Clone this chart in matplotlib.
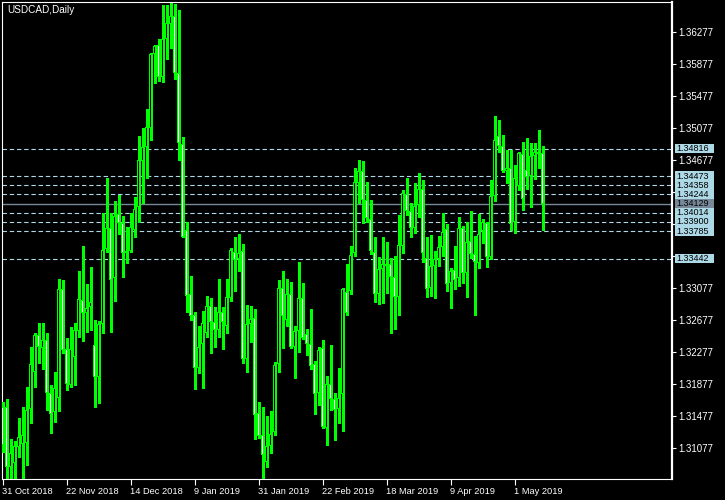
import numpy as np
import matplotlib
matplotlib.use("Agg")
import matplotlib.pyplot as plt
from matplotlib.patches import Rectangle
from matplotlib.transforms import blended_transform_factory

# daily USDCAD candles, 31 Oct 2018 .. mid May 2019
opens = [1.31587, 1.31587, 1.30837, 1.30887, 1.31087, 1.31124, 1.31137, 1.31562, 1.32024, 1.32487,
         1.32324, 1.32424, 1.31762, 1.31524, 1.31699, 1.33062, 1.32312, 1.31862, 1.32212, 1.32537,
         1.32924, 1.32762, 1.32837, 1.32362, 1.31962, 1.32624, 1.33562, 1.33824, 1.33199, 1.33999,
         1.33887, 1.33537, 1.33537, 1.33799, 1.34087, 1.34662, 1.34837, 1.35074, 1.35999, 1.36112,
         1.35712, 1.36187, 1.36374, 1.36474, 1.35762, 1.34874, 1.33799, 1.32999, 1.32737, 1.32074,
         1.32374, 1.32512, 1.32849, 1.32649, 1.32549, 1.32774, 1.32599, 1.32949, 1.33524, 1.33437,
         1.33537, 1.32187, 1.32624, 1.32699, 1.31512, 1.31237, 1.30899, 1.31099, 1.31274, 1.32124,
         1.33074, 1.32674, 1.32999, 1.32337, 1.32537, 1.32949, 1.32499, 1.32374, 1.32124, 1.31762,
         1.32324, 1.31324, 1.31874, 1.31687, 1.31562, 1.31749, 1.33024, 1.33037, 1.33512, 1.34387,
         1.34537, 1.34174, 1.33937, 1.33524, 1.32999, 1.33312, 1.33349, 1.33374, 1.33212, 1.32962,
         1.33599, 1.34249, 1.34037, 1.33824, 1.34112, 1.34312, 1.33449, 1.33074, 1.33349, 1.33437,
         1.33587, 1.33812, 1.33137, 1.33299, 1.33199, 1.33824, 1.33262, 1.33662, 1.33499, 1.33387,
         1.33787, 1.33887, 1.33462, 1.34224, 1.34974, 1.34849, 1.34537, 1.34574, 1.33899, 1.34349,
         1.34749, 1.34549, 1.34474, 1.34724, 1.34774, 1.34762]
highs = [1.31649, 1.31687, 1.31187, 1.31162, 1.31449, 1.31587, 1.31837, 1.32337, 1.32512, 1.32637,
         1.32637, 1.32512, 1.31862, 1.32024, 1.33187, 1.33174, 1.32449, 1.32587, 1.32637, 1.33287,
         1.33599, 1.33124, 1.33337, 1.32674, 1.32662, 1.34012, 1.34449, 1.34012, 1.34162, 1.34237,
         1.33974, 1.33837, 1.34012, 1.34212, 1.34974, 1.35074, 1.35312, 1.36012, 1.36112, 1.36187,
         1.36612, 1.36612, 1.36637, 1.36624, 1.36549, 1.34962, 1.33899, 1.33224, 1.32774, 1.32599,
         1.32787, 1.32974, 1.32949, 1.32837, 1.33187, 1.32837, 1.33187, 1.33574, 1.33712, 1.33749,
         1.33624, 1.32862, 1.32849, 1.32812, 1.31649, 1.31587, 1.31474, 1.31537, 1.32149, 1.33174,
         1.33287, 1.33187, 1.33149, 1.32599, 1.33399, 1.33137, 1.32562, 1.32812, 1.32162, 1.32337,
         1.32424, 1.31974, 1.32362, 1.31762, 1.32074, 1.33074, 1.33374, 1.33599, 1.34574, 1.34674,
         1.34662, 1.34399, 1.34174, 1.33712, 1.33462, 1.33712, 1.33649, 1.33449, 1.33474, 1.33987,
         1.34299, 1.34449, 1.34137, 1.34387, 1.34512, 1.34424, 1.33712, 1.33737, 1.33537, 1.33724,
         1.34012, 1.33874, 1.33324, 1.33599, 1.33962, 1.33849, 1.33899, 1.34037, 1.33724, 1.33999,
         1.33937, 1.33899, 1.34424, 1.35224, 1.35174, 1.34987, 1.34799, 1.34799, 1.34612, 1.34774,
         1.34899, 1.34949, 1.34887, 1.34887, 1.35049, 1.34849]
lows = [1.31024, 1.30674, 1.30674, 1.30699, 1.30962, 1.30674, 1.30862, 1.31387, 1.31837, 1.32137,
        1.32062, 1.31549, 1.31262, 1.31399, 1.31537, 1.32262, 1.31799, 1.31837, 1.31862, 1.32462,
        1.32412, 1.32524, 1.32549, 1.31587, 1.31637, 1.32512, 1.33524, 1.32524, 1.32912, 1.33749,
        1.33212, 1.33387, 1.33524, 1.33712, 1.33899, 1.34137, 1.34449, 1.34924, 1.35637, 1.35662,
        1.35649, 1.35937, 1.36074, 1.35687, 1.34674, 1.33712, 1.32774, 1.32674, 1.31812, 1.32012,
        1.31824, 1.32462, 1.32262, 1.32337, 1.32462, 1.32312, 1.32512, 1.32912, 1.33037, 1.33287,
        1.32137, 1.32024, 1.32399, 1.31187, 1.31199, 1.30687, 1.30837, 1.31012, 1.31237, 1.32024,
        1.32324, 1.32599, 1.32324, 1.31949, 1.32274, 1.32437, 1.32237, 1.32062, 1.31499, 1.31612,
        1.31324, 1.31112, 1.31549, 1.31174, 1.31387, 1.31287, 1.32737, 1.32999, 1.33474, 1.34137,
        1.33887, 1.33899, 1.33499, 1.32899, 1.32874, 1.32887, 1.33012, 1.32512, 1.32562, 1.32737,
        1.33512, 1.33987, 1.33712, 1.33762, 1.33962, 1.33399, 1.32962, 1.32974, 1.32949, 1.33349,
        1.33474, 1.33037, 1.32824, 1.33062, 1.33099, 1.33137, 1.32962, 1.33449, 1.32737, 1.33324,
        1.33637, 1.33337, 1.33437, 1.34162, 1.34774, 1.34524, 1.34387, 1.33799, 1.33762, 1.34299,
        1.34049, 1.34312, 1.34087, 1.34437, 1.34574, 1.33799]
closes = [1.31112, 1.30837, 1.31012, 1.31099, 1.31212, 1.31237, 1.31549, 1.32124, 1.32487, 1.32337,
          1.32424, 1.31762, 1.31499, 1.31824, 1.33062, 1.32299, 1.31874, 1.32312, 1.32549, 1.32937,
          1.32762, 1.32824, 1.32899, 1.31962, 1.32624, 1.33549, 1.33824, 1.33174, 1.33974, 1.33887,
          1.33512, 1.33512, 1.33837, 1.34062, 1.34674, 1.34837, 1.35087, 1.35999, 1.36099, 1.35712,
          1.36187, 1.36387, 1.36474, 1.35762, 1.34887, 1.33712, 1.32974, 1.32724, 1.32074, 1.32337,
          1.32637, 1.32849, 1.32649, 1.32549, 1.32774, 1.32649, 1.32962, 1.33549, 1.33424, 1.33512,
          1.32187, 1.32624, 1.32687, 1.31487, 1.31224, 1.30987, 1.31099, 1.31249, 1.32112, 1.33074,
          1.32724, 1.32999, 1.32337, 1.32537, 1.32949, 1.32449, 1.32374, 1.32099, 1.31749, 1.32299,
          1.31337, 1.31874, 1.31687, 1.31549, 1.31699, 1.33062, 1.32762, 1.33487, 1.34399, 1.34537,
          1.34174, 1.33949, 1.33537, 1.32999, 1.33312, 1.33374, 1.33374, 1.33212, 1.32962, 1.33612,
          1.34262, 1.34037, 1.33824, 1.34099, 1.34312, 1.33512, 1.33062, 1.33349, 1.33437, 1.33587,
          1.33774, 1.33124, 1.33287, 1.33174, 1.33824, 1.33262, 1.33649, 1.33499, 1.33399, 1.33749,
          1.33899, 1.33462, 1.34224, 1.34924, 1.34849, 1.34537, 1.34574, 1.33874, 1.34449, 1.34762,
          1.34187, 1.34462, 1.34724, 1.34774, 1.34749, 1.34129]

date_labels = ["31 Oct 2018", "22 Nov 2018", "14 Dec 2018", "9 Jan 2019", "31 Jan 2019",
               "22 Feb 2019", "18 Mar 2019", "9 Apr 2019", "1 May 2019"]
date_idx = [0, 16, 32, 48, 64, 80, 96, 112, 128]
price_ticks = [1.36277 - 0.004 * k for k in range(14)]
levels = [1.34816, 1.34473, 1.34358, 1.34244, 1.34014, 1.33900, 1.33785, 1.33442]
last_price = 1.34129

GREEN = "#00ff00"
LEVEL_COL = "#add8e6"
LAST_COL = "#778899"
FONT = "Liberation Sans"
PX = 0.000125  # price per screen pixel

fig = plt.figure(figsize=(7.25, 5), dpi=100, facecolor="black")
ax = fig.add_axes([2.3 / 725, 20.7 / 500, 670 / 725, 477 / 500])
ax.set_facecolor("black")

o = np.array(opens)
h = np.array(highs)
l = np.array(lows)
c = np.array(closes)
x = np.arange(len(o))

ax.vlines(x, l, h, color=GREEN, lw=0.8, zorder=3, antialiased=False)
top = np.maximum(o, c)
bot = np.minimum(o, c)
# outer green body (3 px wide), then 1 px fill inside
ax.bar(x, np.maximum(top - bot, PX), bottom=bot, width=0.75, color=GREEN,
       linewidth=0, zorder=4, antialiased=False)
inner = (top - bot) > 2.5 * PX
fill = np.where(c >= o, "black", "white")
ax.bar(x[inner], (top - bot - 2 * PX)[inner], bottom=(bot + PX)[inner], width=0.25,
       color=fill[inner], linewidth=0, zorder=5, antialiased=False)

for lv in levels:
    ax.axhline(lv, color=LEVEL_COL, lw=0.8, dashes=(4, 2.5), zorder=2)
ax.axhline(last_price, color=LAST_COL, lw=1.0, zorder=2)

ax.set_xlim(-0.05, 167.45)
ax.set_ylim(1.30683, 1.36645)

for s in ax.spines.values():
    s.set_color("white")
    s.set_linewidth(0.8)
ax.spines["right"].set_linewidth(1.6)

# tick labels hidden behind the level boxes are left blank
covered = [any(abs(v - lv) < 0.0009 for lv in levels + [last_price]) for v in price_ticks]
ax.yaxis.tick_right()
ax.set_yticks(price_ticks)
ax.set_yticklabels(["" if cv else "%.5f" % v for v, cv in zip(price_ticks, covered)])
ax.tick_params(axis="y", colors="white", length=3, width=0.8, pad=1.5, labelsize=7)
ax.set_xticks(date_idx)
ax.set_xticklabels(date_labels)
ax.tick_params(axis="x", colors="white", length=4, width=0.8, pad=1.5, labelsize=6.7)
for t in ax.get_xticklabels() + ax.get_yticklabels():
    t.set_fontfamily(FONT)
    t.set_color("white")
for t in ax.get_xticklabels():
    t.set_ha("left")

# price labels on the scale
tr = blended_transform_factory(fig.transFigure, ax.transData)
for lv, col in [(v, LEVEL_COL) for v in levels] + [(last_price, LAST_COL)]:
    ax.add_patch(Rectangle((675 / 725, lv - 0.000575), 38.5 / 725, 0.00115, transform=tr,
                           facecolor=col, edgecolor="none", clip_on=False, zorder=6))
    ax.text(676.5 / 725, lv, "%.5f" % lv, transform=tr, color="black", fontsize=6.5,
            fontfamily=FONT, va="center", ha="left", clip_on=False, zorder=7)

fig.text(7 / 725, 1 - 10 / 500, "USDCAD,Daily", color="white", fontsize=7.2,
         fontfamily=FONT, va="center", ha="left")

fig.savefig("out.png", dpi=100, facecolor="black")
